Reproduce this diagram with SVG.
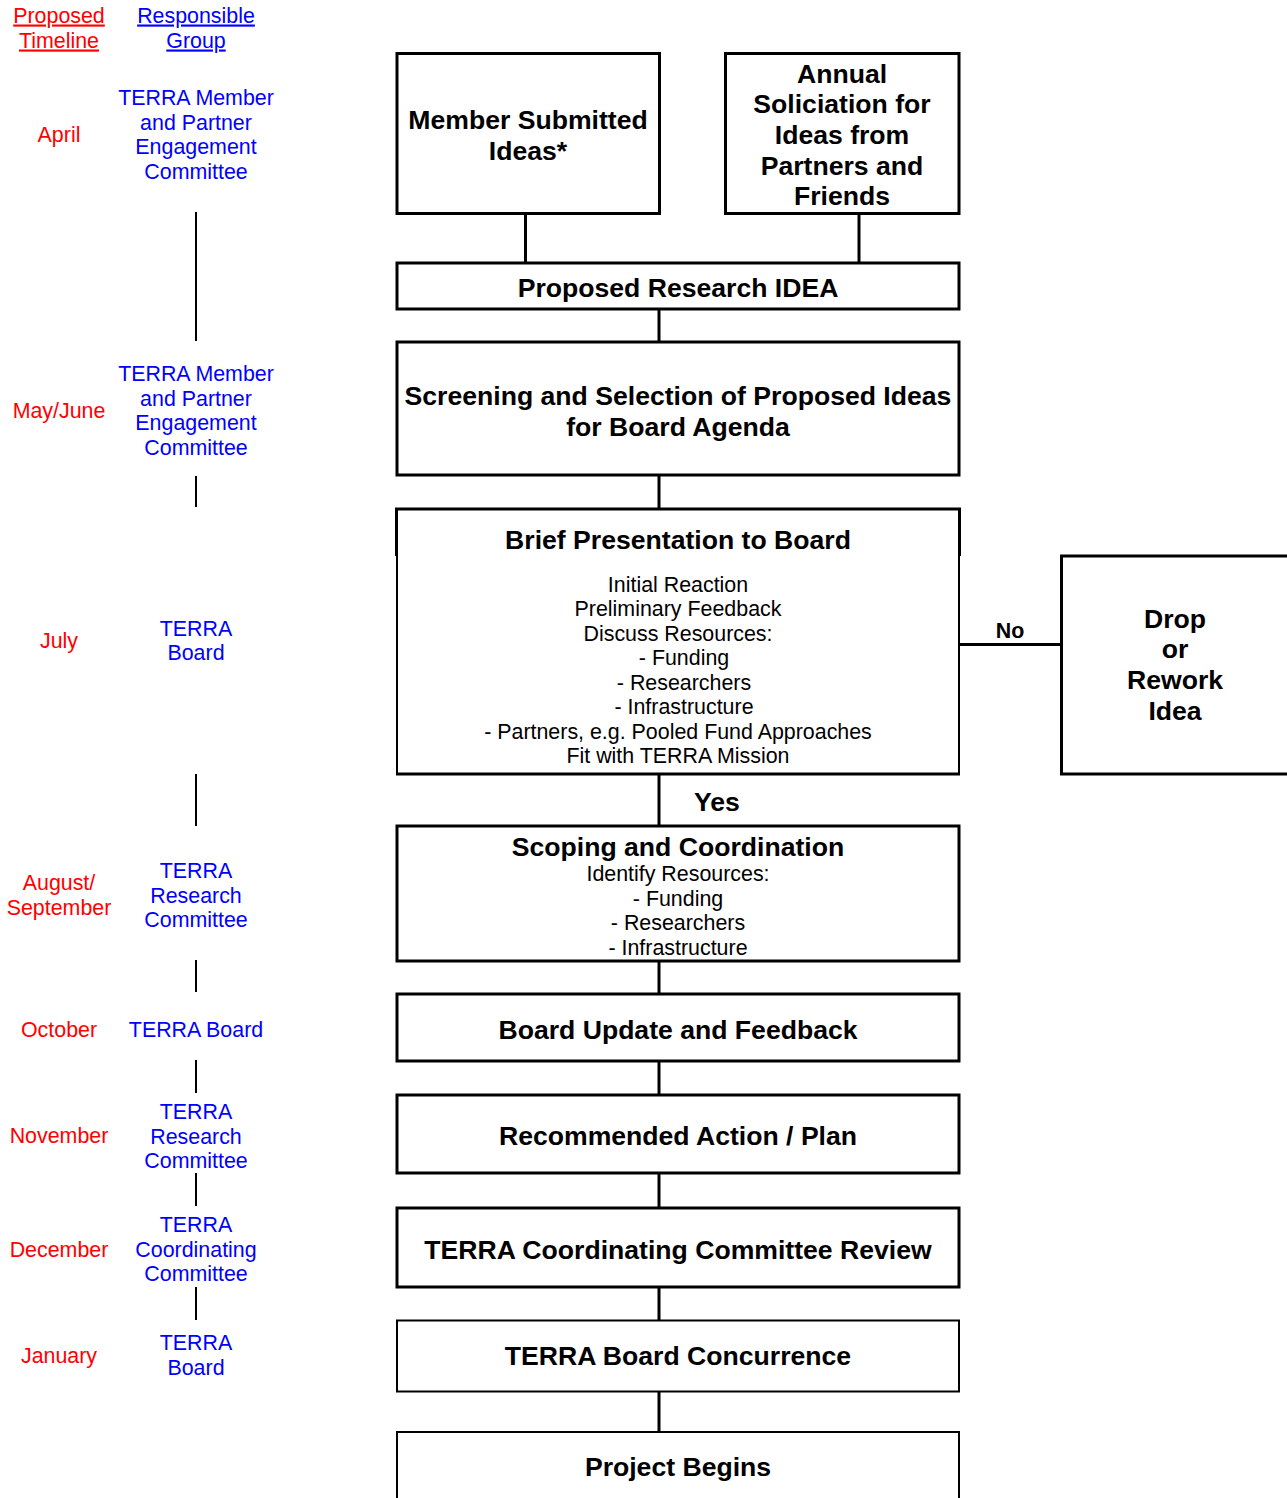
<svg xmlns="http://www.w3.org/2000/svg" width="1287" height="1498" viewBox="0 0 1287 1498">
<style>
.box{fill:#fff;stroke:#000;stroke-width:3}
.box2{fill:#fff;stroke:#000;stroke-width:2}
.ln{stroke:#000;stroke-width:3;fill:none}
.lt{stroke:#000;stroke-width:2;fill:none}
.t{font-family:"Liberation Sans",Arial,sans-serif;font-weight:bold;font-size:26.6px;text-anchor:middle;fill:#000}
.b{font-family:"Liberation Sans",Arial,sans-serif;font-size:21.4px;text-anchor:middle;fill:#000}
.red{font-family:"Liberation Sans",Arial,sans-serif;font-size:21.4px;text-anchor:middle;fill:#ff0000}
.blue{font-family:"Liberation Sans",Arial,sans-serif;font-size:21.4px;text-anchor:middle;fill:#0000ff}
.u{text-decoration:underline}
</style>
<rect width="1287" height="1498" fill="#fff"/>
<g id="connectors">
<line class="ln" x1="525.5" y1="213.5" x2="525.5" y2="263"/>
<line class="ln" x1="859" y1="213.5" x2="859" y2="263"/>
<line class="ln" x1="659" y1="309" x2="659" y2="342"/>
<line class="ln" x1="659" y1="475" x2="659" y2="509"/>
<line class="ln" x1="959" y1="644.5" x2="1061" y2="644.5"/>
<line class="ln" x1="659" y1="774" x2="659" y2="826"/>
<line class="ln" x1="659" y1="961" x2="659" y2="994"/>
<line class="ln" x1="659" y1="1061" x2="659" y2="1095"/>
<line class="ln" x1="659" y1="1173" x2="659" y2="1208"/>
<line class="ln" x1="659" y1="1287" x2="659" y2="1320"/>
<line class="ln" x1="659" y1="1391.5" x2="659" y2="1432"/>
<text class="t" x="1010" y="637.5" style="font-size:21.4px">No</text>
<text class="t" x="717" y="810.5">Yes</text>
</g>
<g id="timeline">
<text class="red u" x="59" y="22.5">Proposed</text>
<text class="red u" x="59" y="47.5">Timeline</text>
<text class="blue u" x="196" y="22.5">Responsible</text>
<text class="blue u" x="196" y="47.5">Group</text>
<text class="red" x="59" y="141.5">April</text>
<text class="blue" x="196" y="104.5">TERRA Member</text>
<text class="blue" x="196" y="129.5">and Partner</text>
<text class="blue" x="196" y="153.5">Engagement</text>
<text class="blue" x="196" y="178.5">Committee</text>
<text class="red" x="59" y="417.5">May/June</text>
<text class="blue" x="196" y="380.5">TERRA Member</text>
<text class="blue" x="196" y="405.5">and Partner</text>
<text class="blue" x="196" y="429.5">Engagement</text>
<text class="blue" x="196" y="454.5">Committee</text>
<text class="red" x="59" y="647.5">July</text>
<text class="blue" x="196" y="635.5">TERRA</text>
<text class="blue" x="196" y="659.5">Board</text>
<text class="red" x="59" y="889.5">August/</text>
<text class="red" x="59" y="914.5">September</text>
<text class="blue" x="196" y="877.5">TERRA</text>
<text class="blue" x="196" y="902.5">Research</text>
<text class="blue" x="196" y="926.5">Committee</text>
<text class="red" x="59" y="1036.5">October</text>
<text class="blue" x="196" y="1036.5">TERRA Board</text>
<text class="red" x="59" y="1142.5">November</text>
<text class="blue" x="196" y="1118.5">TERRA</text>
<text class="blue" x="196" y="1143.5">Research</text>
<text class="blue" x="196" y="1167.5">Committee</text>
<text class="red" x="59" y="1256.5">December</text>
<text class="blue" x="196" y="1231.5">TERRA</text>
<text class="blue" x="196" y="1256.5">Coordinating</text>
<text class="blue" x="196" y="1280.5">Committee</text>
<text class="red" x="59" y="1362.5">January</text>
<text class="blue" x="196" y="1349.5">TERRA</text>
<text class="blue" x="196" y="1374.5">Board</text>
<line class="lt" x1="196" y1="212" x2="196" y2="341"/>
<line class="lt" x1="196" y1="476" x2="196" y2="507"/>
<line class="lt" x1="196" y1="774" x2="196" y2="826"/>
<line class="lt" x1="196" y1="960" x2="196" y2="992"/>
<line class="lt" x1="196" y1="1060" x2="196" y2="1093"/>
<line class="lt" x1="196" y1="1173" x2="196" y2="1206"/>
<line class="lt" x1="196" y1="1287" x2="196" y2="1320"/>
</g>
<g id="member-ideas">
<rect class="box" x="397" y="53.5" width="262.5" height="160"/>
<text class="t" x="528" y="128.5">Member Submitted</text>
<text class="t" x="528" y="159.5">Ideas*</text>
</g>
<g id="annual-solicitation">
<rect class="box" x="725.5" y="53.5" width="233.5" height="160"/>
<text class="t" x="842" y="82.5">Annual</text>
<text class="t" x="842" y="113">Soliciation for</text>
<text class="t" x="842" y="143.5">Ideas from</text>
<text class="t" x="842" y="174.5">Partners and</text>
<text class="t" x="842" y="204.5">Friends</text>
</g>
<g id="proposed-idea">
<rect class="box" x="397" y="263" width="562" height="46"/>
<text class="t" x="678" y="296.5">Proposed Research IDEA</text>
</g>
<g id="screening">
<rect class="box" x="397" y="342" width="562" height="133"/>
<text class="t" x="678" y="404.5">Screening and Selection of Proposed Ideas</text>
<text class="t" x="678" y="435.5">for Board Agenda</text>
</g>
<g id="brief-presentation">
<rect class="box2" x="397" y="509" width="562" height="265"/>
<path class="ln" d="M396.5,556 V509 H959.5 V556"/>
<line class="ln" x1="396" y1="774" x2="960" y2="774"/>
<text class="t" x="678" y="548.5">Brief Presentation to Board</text>
<text class="b" x="678" y="591.5">Initial Reaction</text>
<text class="b" x="678" y="615.5">Preliminary Feedback</text>
<text class="b" x="678" y="640.5">Discuss Resources:</text>
<text class="b" x="684" y="664.5">- Funding</text>
<text class="b" x="684" y="689.5">- Researchers</text>
<text class="b" x="684" y="713.5">- Infrastructure</text>
<text class="b" x="678" y="738.5">- Partners, e.g. Pooled Fund Approaches</text>
<text class="b" x="678" y="762.5">Fit with TERRA Mission</text>
</g>
<g id="drop-rework">
<rect class="box" x="1061.5" y="556" width="240" height="218"/>
<text class="t" x="1175" y="627.5">Drop</text>
<text class="t" x="1175" y="657.5">or</text>
<text class="t" x="1175" y="688.5">Rework</text>
<text class="t" x="1175" y="719.5">Idea</text>
</g>
<g id="scoping">
<rect class="box" x="397" y="826" width="562" height="135"/>
<text class="t" x="678" y="855.5">Scoping and Coordination</text>
<text class="b" x="678" y="880.5">Identify Resources:</text>
<text class="b" x="678" y="905.5">- Funding</text>
<text class="b" x="678" y="929.5">- Researchers</text>
<text class="b" x="678" y="954.5">- Infrastructure</text>
</g>
<g id="board-update">
<rect class="box" x="397" y="994" width="562" height="67"/>
<text class="t" x="678" y="1038.5">Board Update and Feedback</text>
</g>
<g id="recommended-action">
<rect class="box" x="397" y="1095" width="562" height="78"/>
<text class="t" x="678" y="1144.5">Recommended Action / Plan</text>
</g>
<g id="coordinating-review">
<rect class="box" x="397" y="1208" width="562" height="79"/>
<text class="t" x="678" y="1258.5">TERRA Coordinating Committee Review</text>
</g>
<g id="board-concurrence">
<rect class="box2" x="397" y="1320.5" width="562" height="71"/>
<text class="t" x="678" y="1364.5">TERRA Board Concurrence</text>
</g>
<g id="project-begins">
<rect class="box2" x="397" y="1432" width="562" height="80"/>
<text class="t" x="678" y="1475.5">Project Begins</text>
</g>
</svg>
